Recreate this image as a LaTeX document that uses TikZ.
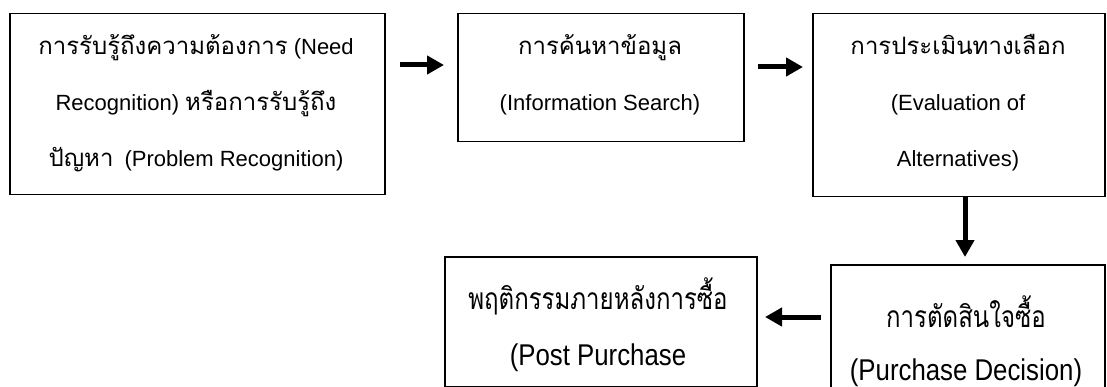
\documentclass[tikz,border=0pt]{standalone}
\usepackage{fontspec}
\setmainfont{Liberation Sans}
\newfontfamily\thaifont[Script=Thai,Scale=1.09]{Loma}
\newfontfamily\thainarrow[Script=Thai,FakeStretch=0.8]{Loma}
\newfontfamily\latnarrow[FakeStretch=0.86]{Liberation Sans}
\usetikzlibrary{arrows.meta}
\tikzset{
  box/.style={draw=black, line width=1.5pt, anchor=north west, inner sep=0pt},
  txt/.style={align=center, inner sep=0pt, font=\fontsize{22}{56}\selectfont},
  ntxt/.style={align=center, inner sep=0pt, font=\fontsize{30}{56}\selectfont\latnarrow},
  arr/.style={line width=5pt, -{Triangle[length=17pt,width=18pt]}}
}
\begin{document}
\begin{tikzpicture}[x=1pt,y=-1pt]
\useasboundingbox (0,0) rectangle (1107,387);
\begin{scope}
\clip (0,0) rectangle (1107,387);
% boxes
\node[box, minimum width=375pt, minimum height=181pt] (b1) at (9,13) {};
\node[box, minimum width=286pt, minimum height=128pt] (b2) at (457,13) {};
\node[box, minimum width=292pt, minimum height=183pt] (b3) at (812,13) {};
\node[box, minimum width=312pt, minimum height=130pt] (b4) at (444,256) {};
\node[box, minimum width=274pt, minimum height=160pt] (b5) at (830,264) {};
\end{scope}
% texts
\node[txt] (t1) at (196,103) {{\thaifont การรับรู้ถึงความต้องการ} (Need\\Recognition) {\thaifont หรือการรับรู้ถึง}\\{\thaifont ปัญหา}\enspace(Problem Recognition)};
\node[txt] (t2) at (600,75) {{\thaifont การค้นหาข้อมูล}\\(Information Search)};
\node[txt] (t3) at (958,103) {{\thaifont การประเมินทางเลือก}\\(Evaluation of\\Alternatives)};
\node[ntxt] (t4) at (598,325) {{\thainarrow พฤติกรรมภายหลังการซื้อ}\\(Post Purchase};
\node[ntxt, font=\fontsize{30}{53}\selectfont\latnarrow] (t5) at (966,341) {{\thainarrow การตัดสินใจซื้อ}\\(Purchase Decision)};
% arrows
\coordinate (a1s) at (400,65);
\coordinate (a1e) at (444,65);
\coordinate (a2s) at (758,67);
\coordinate (a2e) at (803,67);
\coordinate (a3s) at (965,196);
\coordinate (a3e) at (965,257);
\coordinate (a4s) at (821,317);
\coordinate (a4e) at (765,317);
\draw[arr] (a1s) -- (a1e);
\draw[arr] (a2s) -- (a2e);
\draw[arr] (a3s) -- (a3e);
\draw[arr] (a4s) -- (a4e);
\end{tikzpicture}
\end{document}
